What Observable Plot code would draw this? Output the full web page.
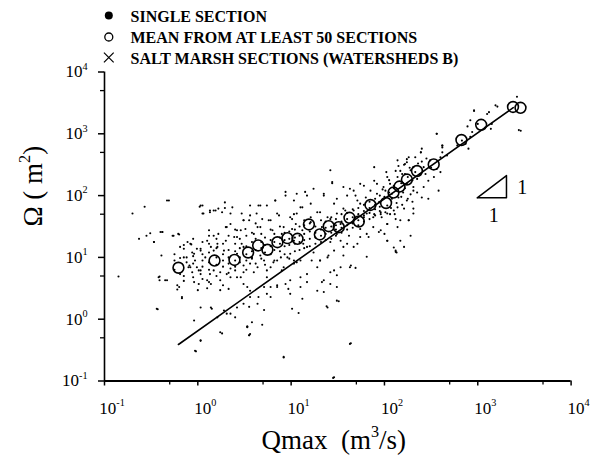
<!DOCTYPE html>
<html><head><meta charset="utf-8">
<script src="https://cdn.jsdelivr.net/npm/d3@7"></script>
<script src="https://cdn.jsdelivr.net/npm/@observablehq/plot@0.6"></script>
<style>body{margin:0;background:#fff} svg text{white-space:pre}</style>
</head><body><div id="chart"></div>
<script>
// Single sections: [log10 Qmax, log10 Omega]
const singleLog = [
[1.44,2.20],[1.60,2.00],[1.69,2.00],[1.78,2.16],[1.85,2.08],[1.92,2.19],[1.99,2.14],[2.05,2.00],[2.10,2.16],[1.63,2.11],[1.49,1.95],[1.35,2.03],[1.17,2.00],[1.12,1.81],[1.03,1.92],[0.94,2.06],[0.83,1.92],[0.74,1.84],[0.65,1.84],[0.56,1.84],[0.47,1.71],[0.35,1.71],[0.26,1.73],[0.17,1.76],[0.06,1.71],[0.03,1.84],[-0.31,1.92],[-0.47,1.25],[-0.38,1.41],[-0.20,1.37],[-0.08,1.22],[-0.15,1.14],[-0.04,1.06],[0.03,1.11],[0.12,1.44],[0.17,1.35],[0.21,1.22],[0.30,1.49],[0.35,1.54],[0.42,1.44],[0.49,1.60],[0.56,1.68],[0.64,1.49],[0.69,1.62],[0.78,1.60],[0.85,1.71],[0.92,1.49],[0.99,1.65],[1.06,1.71],[1.14,1.60],[1.21,1.65],[1.28,1.73],[1.39,1.65],[1.49,1.71],[1.56,1.79],[1.67,1.76],[1.74,1.87],[1.81,1.71],[1.88,1.65],[1.96,1.73],[2.03,1.71],[2.10,1.76],
[-0.42,0.68],[-0.35,0.63],[-0.20,0.52],[-0.17,0.36],[-0.08,0.84],[0.03,0.73],[0.10,0.63],[0.17,0.79],[0.24,0.63],[0.31,0.73],[0.42,0.68],[0.49,0.76],[0.56,0.90],[0.64,0.84],[0.71,0.95],[0.74,0.68],[0.78,0.84],[0.85,0.95],[0.90,0.79],[0.96,1.00],[1.03,0.90],[1.10,0.95],[1.17,1.17],[1.24,1.08],[1.31,0.95],[1.39,1.00],[1.46,1.11],[1.53,1.27],[1.60,1.22],[1.67,1.17],[1.74,1.33],[1.81,1.38],[1.88,1.49],[1.96,1.44],[2.03,1.27],[2.12,1.11],[1.63,0.84],[1.46,0.79],[1.35,0.63],[1.28,0.46],[1.10,0.52],[0.99,0.41],[0.85,0.52],[0.78,0.36],[0.71,0.52],[0.56,0.46],[0.49,0.25],[0.42,0.19],[0.35,0.09],[0.28,0.14],[0.14,0.19],[0.21,0.03],[0.03,0.19],[-0.04,-0.02],[0.53,-0.13],[0.56,-0.24],[0.24,-0.21],[0.03,-0.35],[-0.03,-0.51],[0.92,-0.62],[1.46,-0.94],[1.63,-0.40],[1.39,0.19],[1.49,0.30],[-0.44,0.17],[0.14,1.17],
[-0.57,1.82],[-0.70,1.71],[0.02,1.82],[0.13,1.73],[0.19,1.76],[0.29,1.80],[-0.51,1.39],[-0.55,1.35],[-0.63,1.30],[-0.47,1.25],[-0.40,1.41],[-0.27,1.35],[-0.21,1.38],[-0.19,1.17],[-0.11,1.25],[-0.07,1.21],[-0.01,1.14],[-0.39,1.03],[-0.19,0.99],[-0.12,0.92],[-0.09,0.87],[-0.01,0.84],[0.03,0.79],[-0.06,0.76],[-0.85,0.69],[-0.41,0.69],[-0.41,0.63],[-0.33,0.63],[-0.22,0.55],[-0.22,0.48],[-0.17,0.34],[-0.04,0.60],[0.01,0.57],[0.00,0.47],[0.10,0.50],[0.14,0.57],[0.24,0.47],[0.33,0.49],[-0.43,0.16],[0.03,-0.34],[-0.02,-0.52],[0.15,0.17],[0.26,-0.23],[0.31,0.09],[0.40,0.03],[0.53,-0.12],[0.55,-0.26],[0.10,1.27],[0.17,1.11],[0.22,1.38],[0.31,1.49],[0.39,1.33],[0.46,1.44],[0.49,1.17],[0.42,1.06],[0.35,0.68],[0.46,0.68],[0.53,0.52],[0.40,0.79],[0.55,1.60],[0.05,1.71],
[-0.33,1.92],[0.05,1.84],[0.13,1.76],[0.22,1.79],[0.29,1.89],[0.37,1.81],[0.67,1.84],[0.83,1.92],[0.94,2.00],[0.49,1.60],[0.63,1.71],[0.76,1.60],[0.87,1.68],[1.01,1.62],[0.51,1.46],[0.60,1.38],[0.67,1.49],[0.80,1.44],[0.90,1.38],[1.01,1.46],[0.42,1.33],[0.30,1.27],[0.21,1.17],[0.12,1.22],[0.03,1.14],[-0.06,1.08],[-0.12,1.00],[-0.03,0.95],[0.08,1.00],[0.28,1.11],[0.47,1.22],[0.58,0.98],[0.67,1.03],[0.81,0.92],[0.89,1.00],[0.99,1.06],[1.06,0.92],[0.49,0.87],[0.35,0.82],[0.24,0.76],[0.13,0.73],[0.01,0.79],[-0.10,0.84],[-0.19,0.73],[0.60,0.76],[0.74,0.79],[0.92,0.84],[-0.38,1.41],[-0.26,1.35],
[1.42,2.41],[1.44,2.22],[1.89,2.46],[2.22,2.51],[2.22,2.35],[2.14,2.30],[2.06,2.19],[1.89,2.24],[1.74,2.19],[1.67,2.08],[1.56,2.14],[1.35,2.00],[1.24,2.11],[1.15,2.06],[1.06,2.03],[1.21,1.87],[1.10,1.81],[1.03,1.70],[1.31,1.73],[1.46,1.87],[1.58,1.76],[1.71,1.92],[1.80,1.97],[1.92,2.03],[2.01,2.08],[2.08,2.03],[2.15,1.97],[2.24,1.92],[2.31,2.08],[2.03,1.84],[1.94,1.89],[2.14,1.81],[2.21,1.79],[2.26,1.60],[2.31,1.71],[2.06,1.70],[1.89,1.70],[1.78,1.65],[1.67,1.60],[1.53,1.54],[1.42,1.62],[1.33,1.49],[1.21,1.57],[1.12,1.44],[1.05,1.54],[1.49,1.38],[1.62,1.35],[1.74,1.46],[1.83,1.33],[1.94,1.41],[2.03,1.27],[2.14,1.49],[2.17,1.27],[2.28,1.35],[2.21,1.17],[1.71,1.22],[1.56,1.17],[1.42,1.25],[1.13,1.22],[1.03,1.27],[2.03,1.54],[1.96,1.70],[2.17,1.60],
[1.81,1.01],[2.12,1.09],[1.56,1.03],[1.40,1.03],[1.31,0.95],[1.42,0.76],[1.49,0.71],[1.64,0.87],[1.69,0.83],[1.53,0.84],[1.28,0.84],[1.22,0.95],[1.17,0.73],[1.10,0.68],[1.03,0.95],[0.99,0.63],[0.94,0.57],[0.97,0.49],[0.85,0.55],[0.78,0.52],[0.74,0.41],[0.65,0.36],[0.56,0.36],[0.49,0.57],[1.17,0.60],[1.33,0.60],[1.42,0.57],[1.49,0.52],[1.35,0.44],[1.12,0.33],[1.51,0.29],[1.38,0.21],[1.01,0.17],[1.08,0.10],[0.71,0.15],[0.64,0.25],[0.55,0.20],[0.58,-0.05],[0.53,-0.12],[0.69,-0.09],[0.55,-0.26],[1.64,-0.39],[0.92,-0.61],[1.45,-0.95],
[3.42,3.60],[3.44,3.06],[3.21,3.44],[3.12,3.35],[2.96,3.37],[2.92,3.22],[3.00,3.16],[3.15,3.16],[3.14,3.08],[3.08,3.10],[2.89,3.12],[2.94,3.03],[2.92,2.95],[2.87,2.84],[2.90,2.76],[2.83,2.89],[2.78,2.81],[2.62,2.81],[2.56,3.00],[2.62,2.70],[2.67,2.65],[2.60,2.62],[2.49,2.57],[2.39,2.70],[2.33,2.62],[2.26,2.62],[2.24,2.54],[2.21,2.50],[2.28,2.41],[2.42,2.46],[2.44,2.35],[2.56,2.43],[2.53,2.30],[2.35,2.27],[2.31,2.14],[2.24,2.19],[2.47,2.24],[2.19,2.35],
[2.01,1.73],[2.12,1.62],[2.26,1.60],[2.31,1.79],[2.42,2.14],[2.47,1.95],[2.40,1.97],[2.10,1.16],[2.13,1.08],[2.00,1.38],[2.03,1.54],[1.97,1.65],[2.58,2.08],[2.60,2.38],[2.62,2.78],[3.46,3.05],[2.96,3.38],[3.19,3.46],[3.10,3.32],[2.56,3.00],[2.62,2.81],[2.40,2.76],[2.39,2.70],[2.14,2.57],[2.24,2.59],[2.17,2.40],[2.03,2.30],[2.31,2.46],
[2.05,2.25],[2.10,2.12],[2.12,2.40],[2.18,2.20],[2.20,2.05],[2.25,2.30],[2.27,2.45],[2.30,2.25],[2.33,2.38],[2.36,2.52],[2.08,1.95],[2.13,1.88],[2.18,1.98],[2.22,2.12],[2.05,2.05],[2.00,1.98],[1.98,2.10],[2.02,2.38],[2.15,2.48],[2.28,2.02],[2.35,2.05],[2.38,2.35],[2.40,2.55],[2.45,2.60],[2.50,2.45],[2.07,1.80],[2.11,1.70],[2.19,1.85],[2.25,1.95],[2.30,1.90],
[-0.25,0.80],[-0.25,1.05],[-0.25,0.95],[-0.15,0.70],[-0.15,1.00],[-0.15,1.20],[-0.15,0.62],[-0.05,0.90],[-0.05,1.02],[-0.05,0.68],[-0.05,1.30],[0.05,0.85],[0.05,1.05],[0.05,0.95],[0.05,1.25],[0.05,0.65],[0.12,0.92],[0.12,1.08],[0.12,0.80],[0.12,1.35],[0.12,0.60],[0.20,0.88],[0.20,1.00],[0.20,1.15],[0.20,0.70],[0.20,1.30],[0.27,0.95],[0.27,1.05],[0.27,0.85],[0.27,1.22],[0.27,0.55],[0.33,1.00],[0.33,0.90],[0.33,1.12],[0.33,1.35],[0.33,0.75],[0.40,0.95],[0.40,1.10],[0.40,1.22],[0.40,0.85],[0.40,1.45],[0.45,1.00],[0.45,1.15],[0.45,0.92],[0.45,1.30],[0.52,1.05],[0.52,1.18],[0.52,0.95],[0.52,1.35],[0.52,0.80],[0.58,1.10],[0.58,1.25],[0.58,1.00],[0.58,1.40],[0.62,1.12],[0.62,0.90],[0.62,1.30],[0.62,1.55],[0.68,1.15],[0.68,1.25],[0.68,0.98],[0.68,1.38],[0.72,1.20],[0.72,1.08],[0.72,1.32],[0.72,0.88],[0.78,1.18],[0.78,1.28],[0.78,1.05],[0.78,1.45],[0.82,1.25],[0.82,1.12],[0.82,1.38],[0.82,0.95],[0.88,1.22],[0.88,1.32],[0.88,1.10],[0.88,1.50],[0.93,1.28],[0.93,1.18],[0.93,1.40],[0.93,1.05],[0.98,1.30],[0.98,1.20],[0.98,1.42],[0.98,0.98],
[1.04,1.32],[1.04,1.22],[1.04,1.45],[1.04,1.10],[1.09,1.35],[1.09,1.25],[1.09,1.50],[1.09,1.12],[1.14,1.38],[1.14,1.28],[1.14,1.52],[1.14,1.15],[1.20,1.42],[1.20,1.30],[1.20,1.55],[1.20,1.18],[1.26,1.40],[1.26,1.32],[1.26,1.50],[1.26,1.22],[1.32,1.45],[1.32,1.35],[1.32,1.60],[1.32,1.25],[1.37,1.48],[1.37,1.38],[1.37,1.58],[1.37,1.28],[1.43,1.50],[1.43,1.40],[1.43,1.65],[1.43,1.30],[1.48,1.52],[1.48,1.45],[1.48,1.62],[1.48,1.35],[1.54,1.58],[1.54,1.48],[1.54,1.70],[1.54,1.40],[1.60,1.62],[1.60,1.52],[1.60,1.72],[1.60,1.45],[1.66,1.65],[1.66,1.55],[1.66,1.78],[1.66,1.48],[1.72,1.70],[1.72,1.60],[1.72,1.80],[1.72,1.52],[1.78,1.75],[1.78,1.68],[1.78,1.85],[1.78,1.58],[1.84,1.80],[1.84,1.72],[1.84,1.90],[1.84,1.62],[1.90,1.85],[1.90,1.78],[1.90,1.95],[1.90,1.68],[1.95,1.90],[1.95,1.82],[1.95,2.00],[1.95,1.75]
];
// Means from at least 50 sections
const meanQ = [0.62,1.51,2.47,3.46,4.43,5.57,7.13,9.12,11.7,15.5,20.3,25.3,32.4,42.2,53.1,70.8,104,125,145,174,223,337,668,1087,2385,2870];
const meanOmega = [6.8,8.9,9.1,12.0,15.6,13.3,17.6,20.5,20.0,34.1,23.5,32.0,30.8,43.7,38.1,70.5,75.9,112,140,182,250,319,794,1400,2716,2636];
// Fitted line
const fitQ = [0.62, 2400];
const fitOmega = [0.39, 2650];
// Slope triangle and its labels
const slopeQ = [986, 2030, 2030, 986];
const slopeOmega = [92, 92, 211, 92];
const slopeLabelQ = [2990, 1480];
const slopeLabelOmega = [137, 47.6];
const slopeLabelText = ["1", "1"];
// Axis ticks
const majorTicks = [0.1, 1, 10, 100, 1000, 10000];
const minorTicks = [0.5, 5, 50, 500, 5000];
// Texts
const legendItems = ["SINGLE SECTION", "MEAN FROM AT LEAST 50 SECTIONS", "SALT MARSH SECTIONS (WATERSHEDS B)"];
const xTitle = "Qmax\u00a0\u00a0(m^{3}/s)";
const yTitle = "\u03a9\u00a0(\u00a0m^{2})";

const serif = "'Liberation Serif', 'Times New Roman', serif";
const singles = singleLog.map(([a, b]) => ({q: 10 ** a, o: 10 ** b}));
const means = meanQ.map((q, i) => ({q, o: meanOmega[i]}));
const fit = fitQ.map((q, i) => ({q, o: fitOmega[i]}));
const tri = slopeQ.map((q, i) => ({q, o: slopeOmega[i]}));
const triLabels = slopeLabelQ.map((q, i) => ({q, o: slopeLabelOmega[i], t: slopeLabelText[i]}));
const expFmt = d => "10^{" + Math.round(Math.log10(d)) + "}";

const legendDy = [-56.5, -35, -14.5];
const legendTextDy = [-50.5, -28.8, -8.2];

const chart = Plot.plot({
  width: 599, height: 460,
  marginLeft: 104, marginRight: 28.4, marginTop: 71.5, marginBottom: 79.5,
  x: {type: "log", domain: [0.1, 10000], label: null},
  y: {type: "log", domain: [0.1, 10000], label: null},
  style: {fontFamily: serif, background: "white", color: "black"},
  marks: [
    Plot.dot(singles, {x: "q", y: "o", r: 1.05, fill: "black", stroke: null}),
    Plot.line(fit, {x: "q", y: "o", stroke: "black", strokeWidth: 1.6}),
    Plot.dot(means, {x: "q", y: "o", r: 5.4, stroke: "black", strokeWidth: 1.6, fill: "none"}),
    Plot.line(tri, {x: "q", y: "o", stroke: "black", strokeWidth: 1.5}),
    Plot.text(triLabels, {x: "q", y: "o", text: "t", fontSize: 20, fontFamily: serif}),
    Plot.ruleY([0.1], {stroke: "black", strokeWidth: 2}),
    Plot.ruleX([0.1], {stroke: "black", strokeWidth: 1.6}),
    Plot.axisX({ticks: majorTicks, tickSize: 5, tickFormat: () => "", strokeWidth: 1.5, label: null}),
    Plot.axisX({ticks: minorTicks, tickSize: 4, tickFormat: () => "", strokeWidth: 1.3, label: null}),
    Plot.axisY({ticks: majorTicks, tickSize: 6, tickFormat: () => "", strokeWidth: 1.5, label: null}),
    Plot.axisY({ticks: minorTicks, tickSize: 4, tickFormat: () => "", strokeWidth: 1.3, label: null}),
    Plot.text(majorTicks, {x: d => d, frameAnchor: "bottom", text: expFmt, dy: 21, dx: 7.5, lineAnchor: "top", fontSize: 17, fontFamily: serif}),
    Plot.text(majorTicks, {y: d => d, frameAnchor: "left", text: expFmt, dx: -17, textAnchor: "end", lineAnchor: "middle", fontSize: 17, fontFamily: serif}),
    Plot.text([xTitle], {frameAnchor: "bottom", text: d => d, dx: -4, dy: 67.8, lineAnchor: "bottom", fontSize: 27, fontFamily: serif}),
    Plot.text([yTitle], {frameAnchor: "left", text: d => d, rotate: -90, dx: -62.3, lineAnchor: "bottom", fontSize: 27, fontFamily: serif}),
    Plot.dot([0], {frameAnchor: "top-left", dx: 4.3, dy: legendDy[0], r: 4, fill: "black", stroke: null}),
    Plot.dot([0], {frameAnchor: "top-left", dx: 4.3, dy: legendDy[1], r: 4, stroke: "black", strokeWidth: 1.3, fill: "none"}),
    Plot.dot([0], {frameAnchor: "top-left", dx: 4.3, dy: legendDy[2], r: 4.5, symbol: "times", stroke: "black", strokeWidth: 1.2}),
    ...legendItems.map((t, i) => Plot.text([t], {frameAnchor: "top-left", text: d => d, dx: 26, dy: legendTextDy[i], lineAnchor: "bottom", textAnchor: "start", fontSize: 16, fontWeight: "bold", fontFamily: serif}))
  ]
});

document.getElementById("chart").appendChild(chart);

// Render superscripts written as ^{...}
chart.querySelectorAll("text").forEach(t => {
  const s = t.textContent;
  if (!s.includes("^{")) return;
  const fs = parseFloat(getComputedStyle(t).fontSize) || 15;
  const supSize = fs * 0.6, raise = fs * 0.45;
  const parts = s.split(/(\^\{[^}]*\})/).filter(p => p.length);
  while (t.firstChild) t.removeChild(t.firstChild);
  let raised = false;
  const ns = "http://www.w3.org/2000/svg";
  parts.forEach(p => {
    const sp = document.createElementNS(ns, "tspan");
    if (p.startsWith("^{")) {
      sp.textContent = p.slice(2, -1);
      sp.setAttribute("font-size", supSize);
      sp.setAttribute("dy", -raise);
      raised = true;
    } else {
      sp.textContent = p;
      if (raised) { sp.setAttribute("dy", raise); raised = false; }
    }
    t.appendChild(sp);
  });
});
</script>
</body></html>
